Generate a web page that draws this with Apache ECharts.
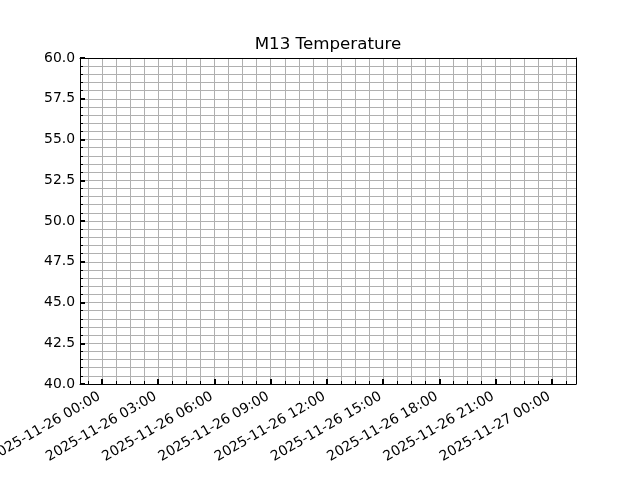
<!DOCTYPE html>
<html>
<head>
<meta charset="utf-8">
<script src="https://cdn.jsdelivr.net/npm/echarts@6/dist/echarts.min.js"></script>
<style>html,body{margin:0;padding:0;background:#fff}#c{width:640px;height:480px}</style>
</head>
<body>
<div id="c"></div>
<script>
// Hours relative to 2025-11-26 00:00
var xMinHours = -1.173;
var xMaxHours = 25.28;
var xMajorTickHours = [0, 3, 6, 9, 12, 15, 18, 21, 24];
var xTickLabels = ['2025-11-26 00:00', '2025-11-26 03:00', '2025-11-26 06:00', '2025-11-26 09:00',
  '2025-11-26 12:00', '2025-11-26 15:00', '2025-11-26 18:00', '2025-11-26 21:00', '2025-11-27 00:00'];
var xMinorTickHours = [-0.75, 0, 0.75, 1.5, 2.25, 3, 3.75, 4.5, 5.25, 6, 6.75, 7.5, 8.25, 9, 9.75, 10.5,
  11.25, 12, 12.75, 13.5, 14.25, 15, 15.75, 16.5, 17.25, 18, 18.75, 19.5, 20.25, 21, 21.75, 22.5, 23.25, 24, 24.75];
var yMin = 40, yMax = 60, yInterval = 2.5;
var temperatureData = []; // no readings in the reference

var font = 'DejaVu Sans';
var chart = echarts.init(document.getElementById('c'), null, {renderer: 'canvas'});
var hidden = {show: false};
chart.setOption({
  animation: false,
  backgroundColor: '#fff',
  title: {
    text: 'M13 Temperature', left: 323, top: 31, textAlign: 'center',
    textStyle: {fontFamily: font, fontSize: 16.7, fontWeight: 'normal', color: '#000'}
  },
  grid: {left: 80, right: 64, top: 58, bottom: 96, containLabel: false, outerBoundsMode: 'none'},
  xAxis: [
    {
      type: 'value', min: xMinHours, max: xMaxHours, position: 'bottom',
      axisLine: {show: true, onZero: false, lineStyle: {color: '#000', width: 1}},
      axisTick: {show: true, inside: true, length: 5, customValues: xMajorTickHours, lineStyle: {color: '#000', width: 2}},
      axisLabel: {
        show: true, customValues: xMajorTickHours, rotate: 30, margin: 10,
        fontFamily: font, fontSize: 13.9, color: '#000', padding: [0, 3, 0, 0],
        formatter: function (v) {
          var i = xMajorTickHours.indexOf(Math.round(v * 1000) / 1000);
          return i >= 0 ? xTickLabels[i] : '';
        }
      },
      splitLine: hidden
    },
    {
      type: 'value', min: xMinHours, max: xMaxHours, position: 'bottom',
      axisLine: hidden,
      axisTick: {show: true, inside: true, length: 3, customValues: xMinorTickHours, lineStyle: {color: '#000', width: 1}},
      axisLabel: hidden,
      splitLine: {show: true, customValues: xMinorTickHours, lineStyle: {color: '#b0b0b0', width: 1}}
    },
    {
      type: 'value', min: xMinHours, max: xMaxHours, position: 'top',
      axisLine: {show: true, onZero: false, lineStyle: {color: '#000', width: 1}},
      axisTick: hidden, axisLabel: hidden, splitLine: hidden
    }
  ],
  yAxis: [
    {
      type: 'value', min: yMin, max: yMax, interval: yInterval, position: 'left',
      axisLine: {show: true, onZero: false, lineStyle: {color: '#000', width: 1}},
      axisTick: {show: true, inside: true, length: 5, lineStyle: {color: '#000', width: 2}},
      minorTick: {show: true, splitNumber: 5, length: 3, lineStyle: {color: '#000', width: 1}},
      axisLabel: {
        show: true, margin: 5, fontFamily: font, fontSize: 13.9, color: '#000',
        formatter: function (v) { return v.toFixed(1); }
      },
      splitLine: {show: true, lineStyle: {color: '#b0b0b0', width: 1}},
      minorSplitLine: {show: true, lineStyle: {color: '#b0b0b0', width: 1}}
    },
    {
      type: 'value', min: yMin, max: yMax, interval: yInterval, position: 'right',
      axisLine: {show: true, onZero: false, lineStyle: {color: '#000', width: 1}},
      axisTick: hidden, axisLabel: hidden, splitLine: hidden
    }
  ],
  series: [{
    type: 'line', name: 'Temperature', xAxisIndex: 0, yAxisIndex: 0,
    data: temperatureData, showSymbol: false, lineStyle: {color: '#1f77b4'}
  }]
});
</script>
</body>
</html>
